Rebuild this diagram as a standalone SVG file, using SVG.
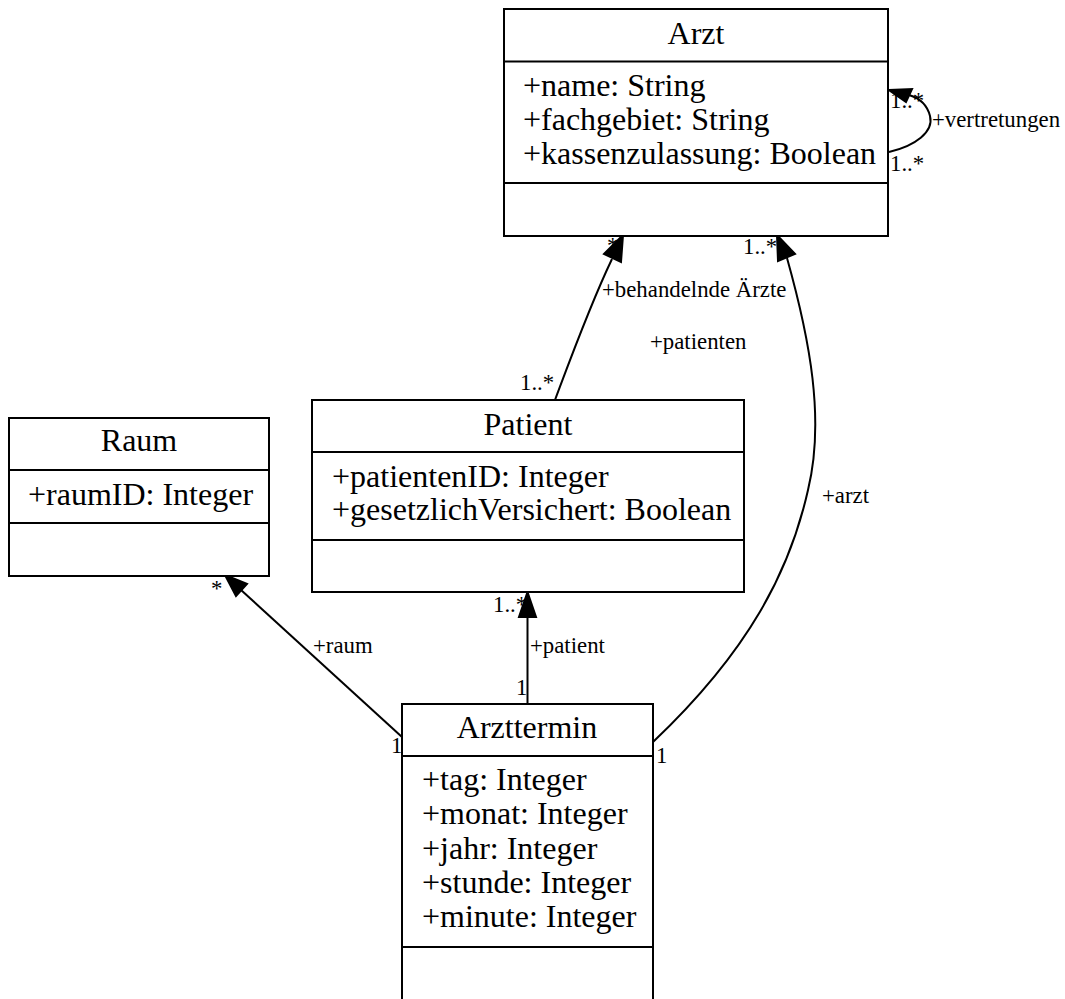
<svg xmlns="http://www.w3.org/2000/svg" width="1065" height="999" viewBox="0 0 1065 999">
<style>
.box{fill:#fff;stroke:#000;stroke-width:2}
.sep{stroke:#000;stroke-width:2}
.title{font-family:"Liberation Serif","Times New Roman",serif;font-size:32px;text-anchor:middle;fill:#000}
.attr{font-family:"Liberation Serif","Times New Roman",serif;font-size:32px;fill:#000}
.lbl{font-family:"Liberation Serif","Times New Roman",serif;font-size:22.8px;fill:#000}
.edge{fill:none;stroke:#000;stroke-width:2}
.head{fill:#000;stroke:#000;stroke-width:2;stroke-linejoin:miter}
</style>
<rect width="1065" height="999" fill="#fff"/>
<g id="connectors">
  <!-- self loop Arzt -->
  <path class="edge" d="M889,152 C915,146 934,132 930,116 C927,104 919,98 909,95"/>
  <polygon class="head" points="889,90 912,89 906,102"/>
  <!-- Patient -> Arzt -->
  <path class="edge" d="M555,400 C570,360 590,305 612,259"/>
  <polygon class="head" points="623,235 604,254 621,262"/>
  <!-- Arzttermin -> Arzt -->
  <path class="edge" d="M653,742 C750,650 790,570 808,490 C825,420 810,340 787,258"/>
  <polygon class="head" points="777,235 778,261 795,254"/>
  <!-- Arzttermin -> Patient -->
  <path class="edge" d="M527.5,704 L527.5,616"/>
  <polygon class="head" points="527.5,592 519,617 536,617"/>
  <!-- Arzttermin -> Raum -->
  <path class="edge" d="M402,737 L241,590"/>
  <polygon class="head" points="225,575 236,596 247,584"/>
  <!-- labels -->
  <text class="lbl" x="932" y="127">+vertretungen</text>
  <text class="lbl" x="890" y="108">1..*</text>
  <text class="lbl" x="890" y="171">1..*</text>
  <text class="lbl" x="607" y="253">*</text>
  <text class="lbl" x="520" y="390">1..*</text>
  <text class="lbl" x="602" y="297">+behandelnde Ärzte</text>
  <text class="lbl" x="650" y="349">+patienten</text>
  <text class="lbl" x="743" y="254">1..*</text>
  <text class="lbl" x="822" y="503">+arzt</text>
  <text class="lbl" x="656" y="763">1</text>
  <text class="lbl" x="493" y="612">1..*</text>
  <text class="lbl" x="530" y="653">+patient</text>
  <text class="lbl" x="516" y="695">1</text>
  <text class="lbl" x="211" y="596">*</text>
  <text class="lbl" x="313" y="653">+raum</text>
  <text class="lbl" x="391" y="753">1</text>
</g>
<g id="Arzt">
  <rect class="box" x="504" y="9" width="384" height="227"/>
  <line class="sep" x1="504" y1="61.5" x2="888" y2="61.5"/>
  <line class="sep" x1="504" y1="183" x2="888" y2="183"/>
  <text class="title" x="696" y="44">Arzt</text>
  <text class="attr" x="523" y="96">+name: String</text>
  <text class="attr" x="523" y="130">+fachgebiet: String</text>
  <text class="attr" x="523" y="164">+kassenzulassung: Boolean</text>
</g>
<g id="Patient">
  <rect class="box" x="312" y="400" width="432" height="192"/>
  <line class="sep" x1="312" y1="452" x2="744" y2="452"/>
  <line class="sep" x1="312" y1="540" x2="744" y2="540"/>
  <text class="title" x="528" y="435">Patient</text>
  <text class="attr" x="332" y="487">+patientenID: Integer</text>
  <text class="attr" x="332" y="520">+gesetzlichVersichert: Boolean</text>
</g>
<g id="Raum">
  <rect class="box" x="9" y="418" width="260" height="158"/>
  <line class="sep" x1="9" y1="470" x2="269" y2="470"/>
  <line class="sep" x1="9" y1="523" x2="269" y2="523"/>
  <text class="title" x="139" y="451">Raum</text>
  <text class="attr" x="28" y="505">+raumID: Integer</text>
</g>
<g id="Arzttermin">
  <rect class="box" x="402" y="704" width="251" height="320"/>
  <line class="sep" x1="402" y1="756" x2="653" y2="756"/>
  <line class="sep" x1="402" y1="947" x2="653" y2="947"/>
  <text class="title" x="527" y="738">Arzttermin</text>
  <text class="attr" x="422" y="790">+tag: Integer</text>
  <text class="attr" x="422" y="824">+monat: Integer</text>
  <text class="attr" x="422" y="859">+jahr: Integer</text>
  <text class="attr" x="422" y="893">+stunde: Integer</text>
  <text class="attr" x="422" y="927">+minute: Integer</text>
</g>
</svg>
